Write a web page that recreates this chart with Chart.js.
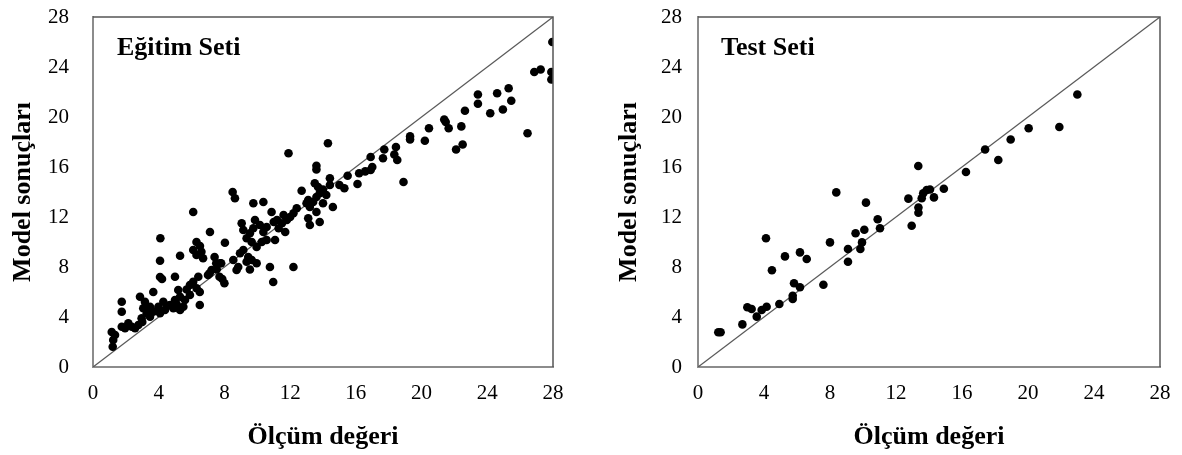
<!DOCTYPE html>
<html>
<head>
<meta charset="utf-8">
<script src="https://cdn.jsdelivr.net/npm/chart.js@4.4.1/dist/chart.umd.min.js"></script>
<style>
    body { margin: 0; background: #ffffff; }
    .panel { position: absolute; top: 0; width: 591px; height: 455px; }
    #leftPanel { left: 0; }
    #rightPanel { left: 591px; }
</style>
</head>
<body>
<div class="panel" id="leftPanel"><canvas id="trainChart" width="591" height="455"></canvas></div>
<div class="panel" id="rightPanel"><canvas id="testChart" width="591" height="455"></canvas></div>
<script>
// Eğitim seti: ölçüm değeri (x) / model sonucu (y)
const trainMeasured = [
    1.14, 1.34, 1.23, 1.2, 1.75, 1.95, 2.15, 2.36, 2.56, 2.76, 2.96, 3.06, 3.27, 3.47, 3.67, 4.08, 4.38, 3.98, 4.28, 4.69,
    4.89, 5.5, 5.3, 4.99, 5.3, 5.6, 5.9, 5.19, 6.5, 6.31, 5.9, 6.1, 6.41, 3.67, 2.86, 3.16, 3.47, 1.75, 1.75, 6.5,
    4.1, 4.08, 5.3, 4.08, 4.2, 4.99, 6.3, 6.1, 6.3, 6.6, 6.7, 6.51, 8.03, 7.12, 7.4, 7.5, 7.8, 7.1, 7.0, 7.7,
    8.0, 7.53, 7.22, 7.87, 6.1, 3.0, 3.9, 4.5, 5.1, 5.7,
    8.5, 8.64, 9.76, 10.37, 10.87, 12.7, 13.6, 14.42, 14.42, 15.3, 15.0,
    13.1, 13.0, 13.2, 13.4, 13.6, 13.8, 14.0, 13.7, 13.5, 14.2, 14.0, 13.6, 13.2, 13.8, 14.6, 13.1,
    12.4, 12.2, 12.0, 11.8, 11.6, 11.5, 11.2, 11.0, 11.3, 11.7, 11.08, 10.57, 10.37, 10.16, 9.86, 9.76, 9.55, 9.35, 9.66, 9.96,
    10.27, 10.57, 9.05, 9.15, 9.15, 8.95, 9.45, 9.66, 9.35, 7.73, 8.54, 8.84, 9.96, 10.77, 12.2, 10.97, 8.74, 9.55, 11.9, 14.3, 13.6,
    27.96, 26.86, 27.25, 27.9, 27.9, 25.3, 24.6, 25.46, 24.95, 24.18, 23.43, 23.43, 22.64, 26.45, 21.38, 21.47, 21.65, 22.42, 22.5, 22.1,
    20.45, 20.2, 19.3, 19.3, 18.44, 17.73, 17.65, 18.34, 18.52, 16.9, 17.0, 16.9, 18.9, 16.2, 16.57, 16.1, 15.5
];
const trainModel = [
    2.8, 2.56, 2.16, 1.62, 3.22, 3.1, 3.5, 3.22, 3.1, 3.36, 3.9, 4.7, 4.3, 4.02, 4.42, 4.3, 4.56, 4.82, 5.22, 4.96,
    4.7, 4.82, 4.56, 5.36, 5.62, 5.36, 5.76, 6.16, 6.0, 6.3, 6.56, 6.82, 7.22, 6.0, 5.62, 5.22, 4.82, 5.22, 4.42, 4.96,
    10.3, 8.5, 8.9, 7.2, 7.04, 7.22, 10.0, 9.36, 8.96, 9.22, 8.7, 9.68, 9.94, 10.8, 8.8, 8.3, 8.3, 7.5, 7.36, 7.22,
    6.7, 7.82, 7.76, 7.04, 12.4, 3.6, 4.5, 4.9, 5.0, 6.2,
    14.0, 13.5, 13.1, 13.2, 12.4, 14.1, 15.8, 15.1, 14.56, 14.3, 14.56,
    13.36, 13.1, 12.8, 13.2, 13.6, 13.9, 14.2, 14.4, 14.7, 13.76, 13.1, 12.4, 11.36, 11.6, 12.8, 11.9,
    12.7, 12.3, 12.0, 11.76, 12.16, 11.5, 11.76, 11.6, 11.1, 10.8, 10.16, 11.2, 10.8, 11.36, 11.76, 11.1, 10.7, 10.3, 10.0, 9.6,
    10.0, 10.16, 11.5, 10.96, 9.36, 9.1, 8.8, 8.56, 8.42, 8.3, 8.56, 8.0, 8.3, 8.0, 8.0, 6.8, 7.76, 7.8, 17.1, 17.9, 16.1,
    26.0, 23.6, 23.8, 23.6, 23.0, 22.3, 21.9, 21.3, 20.6, 20.3, 21.8, 21.06, 20.5, 18.7, 19.8, 19.6, 19.1, 19.25, 17.8, 17.4,
    19.1, 18.1, 18.45, 18.2, 17.6, 17.4, 16.7, 17.0, 16.56, 16.8, 16.0, 15.76, 14.8, 15.5, 15.65, 14.64, 15.3
];

// Test seti
const testMeasured = [
    1.23, 1.37, 2.69, 2.99, 3.25, 3.56, 3.86, 4.16, 4.12, 4.48, 4.93, 5.27, 5.82, 6.18, 5.74, 5.74, 6.18, 6.59, 7.6, 8.0,
    8.38, 9.09, 9.09, 9.55, 9.94, 9.84, 10.08, 10.18, 10.89, 11.03, 12.75, 12.95, 13.36, 13.36, 13.35, 13.65, 13.86, 14.06, 13.56, 14.3,
    14.9, 16.24, 17.4, 18.2, 18.95, 20.04, 21.9, 22.99
];
const testModel = [
    2.78, 2.78, 3.41, 4.78, 4.64, 4.03, 4.56, 4.82, 10.3, 7.74, 5.04, 8.85, 6.7, 6.38, 5.7, 5.44, 9.17, 8.64, 6.58, 9.97,
    13.97, 9.44, 8.42, 10.7, 9.97, 9.44, 10.98, 13.15, 11.82, 11.1, 13.47, 11.3, 12.76, 12.34, 16.08, 13.9, 14.16, 14.2, 13.5, 13.57,
    14.26, 15.6, 17.4, 16.56, 18.2, 19.1, 19.2, 21.8
];

// 1:1 doğrusu ve eksen aralığı
const axisMin = 0;
const axisMax = 28;
const axisStep = 4;

const serif = '"Liberation Serif", "Times New Roman", serif';

// çizim alanının çerçevesi ve panel etiketi
const framePlugin = {
    id: 'frame',
    afterDraw(chart, args, opts) {
        const { ctx, chartArea: a } = chart;
        ctx.save();
        ctx.strokeStyle = '#555555';
        ctx.lineWidth = 1.5;
        ctx.beginPath();
        ctx.moveTo(a.left, a.top);
        ctx.lineTo(a.right, a.top);
        ctx.lineTo(a.right, a.bottom);
        ctx.stroke();
        ctx.fillStyle = '#000000';
        ctx.font = 'bold 26px ' + serif;
        ctx.textBaseline = 'alphabetic';
        ctx.fillText(opts.label, a.left + opts.dx, a.top + 38);
        ctx.restore();
    }
};

function makeChart(canvasId, xs, ys, label, o) {
    const points = xs.map((x, i) => ({ x: x, y: ys[i] }));
    const ctx = document.getElementById(canvasId).getContext('2d');
    return new Chart(ctx, {
        type: 'scatter',
        data: {
            datasets: [{
                data: points,
                backgroundColor: '#000000',
                borderColor: '#000000',
                pointRadius: 4.3,
                pointBorderWidth: 0,
                order: 1
            }, {
                type: 'line',
                data: [{ x: axisMin, y: axisMin }, { x: axisMax, y: axisMax }],
                borderColor: '#5a5a5a',
                borderWidth: 1.3,
                pointRadius: 0,
                fill: false,
                order: 2
            }]
        },
        options: {
            responsive: false,
            animation: false,
            layout: { padding: { left: 0, right: o.padRight, top: 17, bottom: 0 } },
            plugins: {
                legend: { display: false },
                tooltip: { enabled: false },
                frame: { label: label, dx: o.labelDx }
            },
            scales: {
                x: {
                    type: 'linear',
                    min: axisMin,
                    max: axisMax,
                    ticks: { stepSize: axisStep, color: '#000000', padding: 6, font: { family: serif, size: 21 } },
                    grid: { display: false },
                    border: { display: true, color: '#8c8c8c', width: 2 },
                    title: {
                        display: true,
                        text: 'Ölçüm değeri',
                        color: '#000000',
                        font: { family: serif, size: 26, weight: 'bold' },
                        padding: { top: 0, bottom: 2 }
                    },
                    afterFit: (scale) => { scale.height = 88; }
                },
                y: {
                    type: 'linear',
                    min: axisMin,
                    max: axisMax,
                    ticks: { stepSize: axisStep, color: '#000000', padding: o.tickPad, font: { family: serif, size: 21 } },
                    grid: { display: false },
                    border: { display: true, color: '#8c8c8c', width: 2 },
                    title: {
                        display: true,
                        text: 'Model sonuçları',
                        color: '#000000',
                        font: { family: serif, size: 26, weight: 'bold' },
                        padding: { top: o.titlePad, bottom: 0 }
                    },
                    afterFit: (scale) => {
                        scale.width = o.axisWidth;
                        // tick padding'in çizim alanını aşağı itmesini engelle
                        scale.paddingTop = 12;
                        scale.paddingBottom = 12;
                    }
                }
            }
        },
        plugins: [framePlugin]
    });
}

makeChart('trainChart', trainMeasured, trainModel, 'Eğitim Seti',
    { padRight: 38, axisWidth: 93, tickPad: 16, titlePad: 8, labelDx: 24 });
makeChart('testChart', testMeasured, testModel, 'Test Seti',
    { padRight: 22, axisWidth: 107, tickPad: 8, titlePad: 23, labelDx: 23 });
</script>
</body>
</html>
